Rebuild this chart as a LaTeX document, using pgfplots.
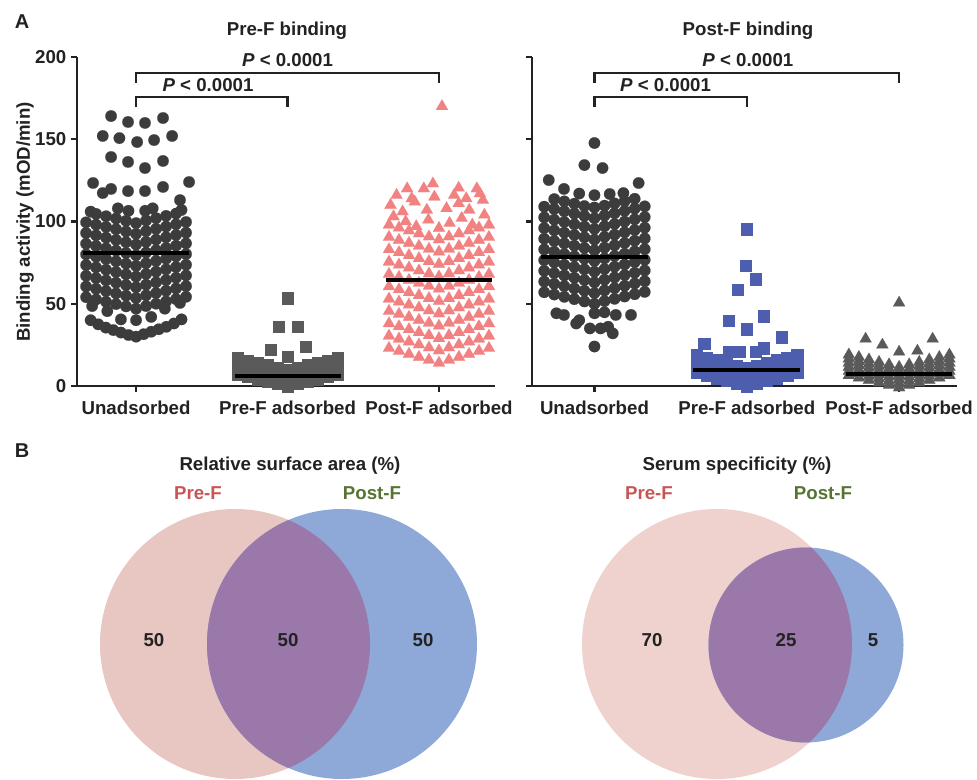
\documentclass[border=0pt]{standalone}
\usepackage{pgfplots}
\pgfplotsset{compat=1.18}
\usepackage{fontspec}
\setmainfont{Liberation Sans}
\definecolor{dkgray}{HTML}{3C3C3C}
\definecolor{mdgray}{HTML}{5A5A5A}
\definecolor{bluesq}{HTML}{4E5EAE}
\definecolor{pinktri}{HTML}{F28282}
\definecolor{vpinkA}{HTML}{E8C6C2}
\definecolor{vpinkB}{HTML}{EFD2CE}
\definecolor{vblue}{HTML}{8EA8D8}
\definecolor{vpurple}{HTML}{9B78AA}
\definecolor{vred}{HTML}{C85555}
\definecolor{vgreen}{HTML}{557332}
\definecolor{tcol}{HTML}{222222}
\newcommand{\tf}{\bfseries\fontsize{14}{16}\selectfont}
\pgfplotsset{
  dotaxis/.style={
    scale only axis, width=313.5pt, height=246.75pt,
    anchor=south west, clip=false, clip marker paths=true,
    xmin=-0.39, xmax=2.37, ymin=0, ymax=200,
    axis x line*=bottom, axis y line*=left,
    axis line style={-, line width=1.6pt, tcol},
    tick align=outside, major tick length=4.5pt,
    every tick/.style={line width=1.6pt, tcol},
    xtick={0,1,2}, ytick={0,50,100,150,200},
    xticklabels={Unadsorbed,Pre-F adsorbed,Post-F adsorbed},
    /pgf/number format/assume math mode=true,
    ticklabel style={font=\tf, text=tcol},
    xticklabel style={yshift=-3pt},
    minor tick num=0,
  },
  circ/.style={only marks, mark=*, mark size=4.3pt, mark options={draw=#1, fill=#1, line width=0.1pt}},
  sq/.style={only marks, mark=square*, mark size=4.2pt, mark options={draw=#1, fill=#1, line width=0.1pt}},
  tri/.style={only marks, mark=triangle*, mark size=5.2pt, mark options={draw=#1, fill=#1, line width=0.1pt}},
  meanl/.style={black, line width=2.8pt, no marks},
  brk/.style={tcol, line width=1.6pt, no marks, line join=miter},
}
\begin{document}
\begin{tikzpicture}
\useasboundingbox (0,0) rectangle (732.75pt,584.25pt);
% ---------- canvas axis: Venn diagrams and panel text ----------
\begin{axis}[scale only axis, width=732.75pt, height=584.25pt, at={(0pt,0pt)}, anchor=south west,
  xmin=0, xmax=977, ymin=0, ymax=779, hide axis, clip=false]
  \fill[vpinkA] (axis cs:235,135) circle[radius=135];
  \fill[vblue] (axis cs:342,135) circle[radius=135];
  \begin{scope}
    \clip (axis cs:235,135) circle[radius=135];
    \fill[vpurple] (axis cs:342,135) circle[radius=135];
  \end{scope}
  \fill[vpinkB] (axis cs:717,135) circle[radius=135];
  \fill[vblue] (axis cs:806,134) circle[radius=97.5];
  \begin{scope}
    \clip (axis cs:717,135) circle[radius=135];
    \fill[vpurple] (axis cs:806,134) circle[radius=97.5];
  \end{scope}
  \node[font=\tf, text=tcol] at (axis cs:154,139) {50};
  \node[font=\tf, text=tcol] at (axis cs:288,139) {50};
  \node[font=\tf, text=tcol] at (axis cs:423,139) {50};
  \node[font=\tf, text=tcol] at (axis cs:652,139) {70};
  \node[font=\tf, text=tcol] at (axis cs:786,139) {25};
  \node[font=\tf, text=tcol] at (axis cs:873,139) {5};
  \node[font=\tf, text=tcol] at (axis cs:290,313) {Relative surface area (\%)};
  \node[font=\tf, text=tcol] at (axis cs:737,313) {Serum specificity (\%)};
  \node[font=\tf, text=vred] at (axis cs:198,286) {Pre-F};
  \node[font=\tf, text=vgreen] at (axis cs:372,286) {Post-F};
  \node[font=\tf, text=vred] at (axis cs:649,286) {Pre-F};
  \node[font=\tf, text=vgreen] at (axis cs:823,286) {Post-F};
  \node[font=\bfseries\fontsize{15}{17}\selectfont, text=tcol] at (axis cs:22,328) {B};
  \node[font=\bfseries\fontsize{15}{17}\selectfont, text=tcol] at (axis cs:22,757) {A};
  \node[font=\tf, text=tcol] at (axis cs:287,748) {Pre-F binding};
  \node[font=\tf, text=tcol] at (axis cs:748,748) {Post-F binding};
  \node[font=\tf, text=tcol, rotate=90] at (axis cs:25,557) {Binding activity (mOD/min)};
\end{axis}
% ---------- Pre-F binding ----------
\begin{axis}[dotaxis, at={(57.75pt,294.75pt)}]
% Unadsorbed
\addplot[circ=dkgray] coordinates {
(0,30)(-0.05,31)(0.05,31.5)(-0.1,32.5)(0.1,33)(-0.15,34)(0.15,34.5)(-0.2,35.5)(0.2,36)(-0.25,37.5)(0.25,38)(-0.3,40)(0.3,40.5)
(-0.29,48.6)(-0.19,45.5)(-0.1,40.5)(0,40)(0.1,42)(0.19,47)(0.29,50.5)
(-0.33,54)(-0.264,52.6)(-0.198,51.2)(-0.132,49.8)(-0.066,48.4)(0,47)(0.066,48.6)(0.132,50)(0.198,51.4)(0.264,52.8)(0.33,54.2)
(-0.33,60.5)(-0.264,59.1)(-0.198,57.7)(-0.132,56.3)(-0.066,54.9)(0,53.5)(0.066,55.1)(0.132,56.5)(0.198,57.9)(0.264,59.3)(0.33,60.7)
(-0.33,67)(-0.264,65.6)(-0.198,64.2)(-0.132,62.8)(-0.066,61.4)(0,60)(0.066,61.6)(0.132,63)(0.198,64.4)(0.264,65.8)(0.33,67.2)
(-0.33,73.5)(-0.264,72.1)(-0.198,70.7)(-0.132,69.3)(-0.066,67.9)(0,66.5)(0.066,68.1)(0.132,69.5)(0.198,70.9)(0.264,72.3)(0.33,73.7)
(-0.33,80)(-0.264,78.6)(-0.198,77.2)(-0.132,75.8)(-0.066,74.4)(0,73)(0.066,74.6)(0.132,76)(0.198,77.4)(0.264,78.8)(0.33,80.2)
(-0.33,86.5)(-0.264,85.1)(-0.198,83.7)(-0.132,82.3)(-0.066,80.9)(0,79.5)(0.066,81.1)(0.132,82.5)(0.198,83.9)(0.264,85.3)(0.33,86.7)
(-0.33,93)(-0.264,91.6)(-0.198,90.2)(-0.132,88.8)(-0.066,87.4)(0,86)(0.066,87.6)(0.132,89)(0.198,90.4)(0.264,91.8)(0.33,93.2)
(-0.33,99.5)(-0.264,98.1)(-0.198,96.7)(-0.132,95.3)(-0.066,93.9)(0,92.5)(0.066,94.1)(0.132,95.5)(0.198,96.9)(0.264,98.3)(0.33,99.7)
(-0.264,104.6)(-0.198,103.2)(-0.132,101.8)(-0.066,100.4)(0,99)(0.066,100.6)(0.132,102)(0.198,103.4)(0.264,104.8)
(-0.3,106)(-0.12,108)(-0.05,106.5)(0.06,106.5)(0.11,108)(0.3,107)(0.29,113)
(-0.284,123.4)(-0.22,117.3)(-0.165,119.8)(-0.053,118.5)(0.059,118.5)(0.178,121)(0.35,124)
(-0.165,139.2)(-0.053,136.2)(0.059,132.5)(0.178,136.8)
(-0.22,152)(-0.11,150.7)(0.007,148.3)(0.119,149.5)(0.238,152)
(-0.165,164.1)(-0.053,160.5)(0.059,159.9)(0.178,162.9)
};
% Pre-F adsorbed
\addplot[sq=mdgray] coordinates {
(0.67,7)(0.736,5.6)(0.802,4.2)(0.868,2.8)(0.934,1.4)(1,0)(1.066,1.4)(1.132,2.8)(1.198,4.2)(1.264,5.6)(1.33,7)
(0.67,9.5)(0.736,8.1)(0.802,6.7)(0.868,5.3)(0.934,3.9)(1,2.5)(1.066,3.9)(1.132,5.3)(1.198,6.7)(1.264,8.1)(1.33,9.5)
(0.67,12)(0.736,10.6)(0.802,9.2)(0.868,7.8)(0.934,6.4)(1,5)(1.066,6.4)(1.132,7.8)(1.198,9.2)(1.264,10.6)(1.33,12)
(0.67,14.5)(0.736,13.1)(0.802,11.7)(0.868,10.3)(0.934,8.9)(1,7.5)(1.066,8.9)(1.132,10.3)(1.198,11.7)(1.264,13.1)(1.33,14.5)
(0.67,17)(0.736,15.6)(0.802,14.2)(0.868,12.8)(0.934,11.4)(1,10)(1.066,11.4)(1.132,12.8)(1.198,14.2)(1.264,15.6)(1.33,17)
(0.89,22)(1.12,24)(0.94,36)(1.066,36)(1,53.5)(1,18)
};
% Post-F adsorbed
\addplot[tri=pinktri] coordinates {
(1.67,23)(1.736,21.2)(1.802,19.4)(1.868,17.6)(1.934,15.8)(2,14)(2.066,15.8)(2.132,17.6)(2.198,19.4)(2.264,21.2)(2.33,23)
(1.67,30.5)(1.736,28.7)(1.802,26.9)(1.868,25.1)(1.934,23.3)(2,21.5)(2.066,23.3)(2.132,25.1)(2.198,26.9)(2.264,28.7)(2.33,30.5)
(1.67,38)(1.736,36.2)(1.802,34.4)(1.868,32.6)(1.934,30.8)(2,29)(2.066,30.8)(2.132,32.6)(2.198,34.4)(2.264,36.2)(2.33,38)
(1.67,45.5)(1.736,43.7)(1.802,41.9)(1.868,40.1)(1.934,38.3)(2,36.5)(2.066,38.3)(2.132,40.1)(2.198,41.9)(2.264,43.7)(2.33,45.5)
(1.67,53)(1.736,51.2)(1.802,49.4)(1.868,47.6)(1.934,45.8)(2,44)(2.066,45.8)(2.132,47.6)(2.198,49.4)(2.264,51.2)(2.33,53)
(1.67,60.5)(1.736,58.7)(1.802,56.9)(1.868,55.1)(1.934,53.3)(2,51.5)(2.066,53.3)(2.132,55.1)(2.198,56.9)(2.264,58.7)(2.33,60.5)
(1.67,68)(1.736,66.2)(1.802,64.4)(1.868,62.6)(1.934,60.8)(2,59)(2.066,60.8)(2.132,62.6)(2.198,64.4)(2.264,66.2)(2.33,68)
(1.67,75.5)(1.736,73.7)(1.802,71.9)(1.868,70.1)(1.934,68.3)(2,66.5)(2.066,68.3)(2.132,70.1)(2.198,71.9)(2.264,73.7)(2.33,75.5)
(1.67,83)(1.736,81.2)(1.802,79.4)(1.868,77.6)(1.934,75.8)(2,74)(2.066,75.8)(2.132,77.6)(2.198,79.4)(2.264,81.2)(2.33,83)
(1.67,90.5)(1.736,88.7)(1.802,86.9)(1.868,85.1)(1.934,83.3)(2,81.5)(2.066,83.3)(2.132,85.1)(2.198,86.9)(2.264,88.7)(2.33,90.5)
(1.67,98)(1.736,96.2)(1.802,94.4)(1.868,92.6)(1.934,90.8)(2,89)(2.066,90.8)(2.132,92.6)(2.198,94.4)(2.264,96.2)(2.33,98)
(1.7,103)(1.78,100)(1.85,97)(1.93,101)(2.0,96)(2.07,99)(2.15,102)(2.22,98)(2.3,104)
(1.68,110)(1.76,106)(1.84,112)(1.92,107)(2.05,108)(2.13,111)(2.2,107)(2.29,113)
(1.72,116)(1.82,114)(1.97,115)(2.1,116)(2.18,114)(2.27,117)
(1.79,120)(1.9,120)(1.96,123)(2.13,120.4)(2.25,120)
(2.02,170)
};
\addplot[meanl] coordinates {(-0.35,81)(0.35,81)};
\addplot[meanl] coordinates {(0.65,6)(1.35,6)};
\addplot[meanl] coordinates {(1.65,64.4)(2.35,64.4)};
\addplot[brk] coordinates {(0,184.2)(0,190.3)(2,190.3)(2,184.2)};
\addplot[brk] coordinates {(0,169.6)(0,175.7)(1,175.7)(1,169.6)};
\node[font=\tf, text=tcol] at (axis cs:1,198.2) {\textit{P} < 0.0001};
\node[font=\tf, text=tcol] at (axis cs:0.475,183) {\textit{P} < 0.0001};
\end{axis}
% ---------- Post-F binding ----------
\begin{axis}[dotaxis, at={(399pt,294.75pt)}, width=318.75pt, xmin=-0.41, xmax=2.38, yticklabels={}]
% Unadsorbed
\addplot[circ=dkgray] coordinates {
(0,24)(-0.12,38)(-0.03,35)(0.04,35)(0.09,36)(0.12,32)
(-0.25,44.2)(-0.2,43.2)(-0.1,40)(0,44.2)(0.066,44.8)(0.14,43.2)(0.24,43.2)
(-0.33,57)(-0.264,55.6)(-0.198,54.2)(-0.132,52.8)(-0.066,51.4)(0,50)(0.066,51.6)(0.132,53)(0.198,54.4)(0.264,55.8)(0.33,57.2)
(-0.33,63.5)(-0.264,62.1)(-0.198,60.7)(-0.132,59.3)(-0.066,57.9)(0,56.5)(0.066,58.1)(0.132,59.5)(0.198,60.9)(0.264,62.3)(0.33,63.7)
(-0.33,70)(-0.264,68.6)(-0.198,67.2)(-0.132,65.8)(-0.066,64.4)(0,63)(0.066,64.6)(0.132,66)(0.198,67.4)(0.264,68.8)(0.33,70.2)
(-0.33,76.5)(-0.264,75.1)(-0.198,73.7)(-0.132,72.3)(-0.066,70.9)(0,69.5)(0.066,71.1)(0.132,72.5)(0.198,73.9)(0.264,75.3)(0.33,76.7)
(-0.33,83)(-0.264,81.6)(-0.198,80.2)(-0.132,78.8)(-0.066,77.4)(0,76)(0.066,77.6)(0.132,79)(0.198,80.4)(0.264,81.8)(0.33,83.2)
(-0.33,89.5)(-0.264,88.1)(-0.198,86.7)(-0.132,85.3)(-0.066,83.9)(0,82.5)(0.066,84.1)(0.132,85.5)(0.198,86.9)(0.264,88.3)(0.33,89.7)
(-0.33,96)(-0.264,94.6)(-0.198,93.2)(-0.132,91.8)(-0.066,90.4)(0,89)(0.066,90.6)(0.132,92)(0.198,93.4)(0.264,94.8)(0.33,96.2)
(-0.33,102.5)(-0.264,101.1)(-0.198,99.7)(-0.132,98.3)(-0.066,96.9)(0,95.5)(0.066,97.1)(0.132,98.5)(0.198,99.9)(0.264,101.3)(0.33,102.7)
(-0.33,109)(-0.264,107.6)(-0.198,106.2)(-0.132,104.8)(-0.066,103.4)(0,102)(0.066,103.6)(0.132,105)(0.198,106.4)(0.264,107.8)(0.33,109.2)
(-0.264,113.6)(-0.198,112.2)(-0.132,110.8)(-0.066,109.4)(0,108.5)(0.066,109.6)(0.132,111)(0.198,112.4)(0.264,113.8)
(-0.3,125.2)(-0.2,119.8)(-0.1,117)(0,116)(0.1,116.7)(0.19,117.3)(0.29,123.4)
(-0.066,134.3)(0.053,132.5)(0,147.7)
};
% Pre-F adsorbed
\addplot[sq=bluesq] coordinates {
(0.67,8)(0.736,6.4)(0.802,4.8)(0.868,3.2)(0.934,1.6)(1,0)(1.066,1.6)(1.132,3.2)(1.198,4.8)(1.264,6.4)(1.33,8)
(0.67,10)(0.736,8.4)(0.802,6.8)(0.868,5.2)(0.934,3.6)(1,2)(1.066,3.6)(1.132,5.2)(1.198,6.8)(1.264,8.4)(1.33,10)
(0.67,12)(0.736,10.4)(0.802,8.8)(0.868,7.2)(0.934,5.6)(1,4)(1.066,5.6)(1.132,7.2)(1.198,8.8)(1.264,10.4)(1.33,12)
(0.67,14)(0.736,12.4)(0.802,10.8)(0.868,9.2)(0.934,7.6)(1,6)(1.066,7.6)(1.132,9.2)(1.198,10.8)(1.264,12.4)(1.33,14)
(0.67,16)(0.736,14.4)(0.802,12.8)(0.868,11.2)(0.934,9.6)(1,8)(1.066,9.6)(1.132,11.2)(1.198,12.8)(1.264,14.4)(1.33,16)
(0.67,19)(0.736,17.4)(0.802,15.8)(0.868,14.2)(0.934,12.6)(1,11)(1.066,12.6)(1.132,14.2)(1.198,15.8)(1.264,17.4)(1.33,19)
(1,95.4)(0.993,73)(1.06,65)(0.94,58.4)(0.88,40)(1.11,42.5)(1,34.6)(1.23,29.8)(0.72,26)(0.88,20.9)(0.95,20.9)(1.06,20.9)(1.11,23)
};
% Post-F adsorbed
\addplot[tri=mdgray] coordinates {
(1.67,6.5)(1.736,5)(1.802,3.5)(1.868,2)(1.934,0.5)(2,-1)(2.066,0.5)(2.132,2)(2.198,3.5)(2.264,5)(2.33,6.5)
(1.67,9)(1.736,7.5)(1.802,6)(1.868,4.5)(1.934,3)(2,1.5)(2.066,3)(2.132,4.5)(2.198,6)(2.264,7.5)(2.33,9)
(1.67,11.5)(1.736,10)(1.802,8.5)(1.868,7)(1.934,5.5)(2,4)(2.066,5.5)(2.132,7)(2.198,8.5)(2.264,10)(2.33,11.5)
(1.67,14)(1.736,12.5)(1.802,11)(1.868,9.5)(1.934,8)(2,6.5)(2.066,8)(2.132,9.5)(2.198,11)(2.264,12.5)(2.33,14)
(1.67,16.5)(1.736,15)(1.802,13.5)(1.868,12)(1.934,10.5)(2,9)(2.066,10.5)(2.132,12)(2.198,13.5)(2.264,15)(2.33,16.5)
(1.67,19)(1.736,17.5)(1.802,16)(1.868,14.5)(1.934,13)(2,11.5)(2.066,13)(2.132,14.5)(2.198,16)(2.264,17.5)(2.33,19)
(2,50.5)(1.78,28.6)(1.89,25)(2,20.7)(2.12,21.3)(2.22,28.6)
};
\addplot[meanl] coordinates {(-0.35,78.6)(0.35,78.6)};
\addplot[meanl] coordinates {(0.65,9.7)(1.35,9.7)};
\addplot[meanl] coordinates {(1.65,7.1)(2.35,7.1)};
\addplot[brk] coordinates {(0,184.2)(0,190.3)(2,190.3)(2,184.2)};
\addplot[brk] coordinates {(0,169.6)(0,175.7)(1,175.7)(1,169.6)};
\node[font=\tf, text=tcol] at (axis cs:1.007,198.2) {\textit{P} < 0.0001};
\node[font=\tf, text=tcol] at (axis cs:0.467,183) {\textit{P} < 0.0001};
\end{axis}
\end{tikzpicture}
\end{document}
